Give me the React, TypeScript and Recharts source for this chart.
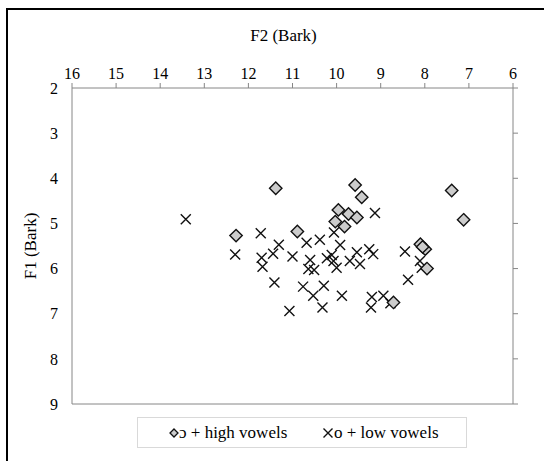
import React from 'react';
import { ScatterChart, Scatter, XAxis, YAxis, Label } from 'recharts';

const highF2 = [11.38, 9.58, 12.28, 10.89, 9.96, 9.73, 9.54, 10.03, 9.82, 9.43, 7.39, 7.12, 8.10, 7.99, 8.05, 7.95, 8.71];
const highF1 = [4.22, 4.15, 5.27, 5.18, 4.70, 4.79, 4.87, 4.96, 5.07, 4.42, 4.27, 4.92, 5.46, 5.57, 5.52, 6.00, 6.75];

const lowF2 = [13.42, 11.72, 12.30, 11.31, 11.70, 11.44, 11.68, 11.00, 10.68, 10.38, 10.06, 9.92, 10.60, 10.64, 10.51, 10.22, 10.11, 10.07, 10.00, 9.70, 9.54, 11.41, 10.76, 10.29, 10.53, 9.88, 11.07, 10.32, 9.13, 9.26, 9.17, 9.47, 8.45, 8.11, 8.07, 8.38, 9.20, 8.94, 8.78, 9.22];
const lowF1 = [4.91, 5.22, 5.69, 5.47, 5.76, 5.67, 5.96, 5.73, 5.43, 5.36, 5.20, 5.48, 5.81, 6.01, 6.03, 5.77, 5.70, 5.83, 5.98, 5.83, 5.64, 6.31, 6.40, 6.38, 6.60, 6.60, 6.94, 6.86, 4.77, 5.57, 5.68, 5.90, 5.62, 5.83, 5.98, 6.25, 6.63, 6.60, 6.77, 6.86];

const xTicks = [16, 15, 14, 13, 12, 11, 10, 9, 8, 7, 6];
const yTicks = [2, 3, 4, 5, 6, 7, 8, 9];

const seriesNames = ['ɔ + high vowels', 'o + low vowels'];
const xTitle = 'F2 (Bark)';
const yTitle = 'F1 (Bark)';

const highData = highF2.map((x, i) => ({ x, y: highF1[i] }));
const lowData = lowF2.map((x, i) => ({ x, y: lowF1[i] }));

const FONT = '"Times New Roman", "Liberation Serif", serif';
const AXIS = '#868686';

const Diamond = (props: any) => {
  const { cx, cy } = props;
  const r = 6.2;
  return (
    <path
      d={`M${cx},${cy - r}L${cx + r},${cy}L${cx},${cy + r}L${cx - r},${cy}Z`}
      fill="#cccccc"
      stroke="#111"
      strokeWidth={1.4}
    />
  );
};

const Cross = (props: any) => {
  const { cx, cy } = props;
  const r = 5;
  return (
    <path
      d={`M${cx - r},${cy - r}L${cx + r},${cy + r}M${cx - r},${cy + r}L${cx + r},${cy - r}`}
      fill="none"
      stroke="#111"
      strokeWidth={1.4}
    />
  );
};

const Nothing = () => <g />;

const tickStyle = { fill: '#000', fontSize: 16, fontFamily: FONT };

export default function App() {
  return (
    <div style={{ position: 'relative', width: 544, height: 461, background: '#fff' }}>
      <style>{`body{margin:0;}`}</style>
      <div
        style={{
          position: 'absolute',
          left: 6,
          top: 8,
          width: 540,
          height: 455,
          borderLeft: '2px solid #000',
          borderTop: '2px solid #000',
          boxSizing: 'border-box',
        }}
      />
      <div style={{ position: 'absolute', left: 0, top: 0 }}>
        <ScatterChart width={544} height={461} margin={{ top: 58, right: 26, bottom: 55, left: 32 }}>
          <XAxis
            type="number"
            dataKey="x"
            orientation="top"
            domain={[6, 16]}
            ticks={xTicks}
            reversed
            height={30}
            interval={0}
            allowDecimals={false}
            stroke={AXIS}
            tickLine={{ stroke: AXIS }}
            tickSize={5}
            tickMargin={4}
            tick={tickStyle}
          >
            <Label
              content={(p: any) => {
                const vb = p.viewBox || { x: 72, y: 58, width: 441 };
                return (
                  <text
                    x={vb.x + vb.width / 2 - 9}
                    y={vb.y - 17}
                    textAnchor="middle"
                    fontFamily={FONT}
                    fontSize={17}
                    fill="#000"
                  >
                    {xTitle}
                  </text>
                );
              }}
            />
          </XAxis>
          <XAxis
            xAxisId="b"
            type="number"
            dataKey="x"
            orientation="bottom"
            domain={[6, 16]}
            ticks={xTicks}
            reversed
            height={2}
            stroke={AXIS}
            tick={false}
            tickLine={false}
          />
          <YAxis
            type="number"
            dataKey="y"
            domain={[2, 9]}
            ticks={yTicks}
            reversed
            width={40}
            interval={0}
            stroke={AXIS}
            tickLine={false}
            tickSize={0}
            tickMargin={14}
            tick={tickStyle}
          >
            <Label
              content={(p: any) => {
                const vb = p.viewBox || { x: 32, y: 88, height: 316 };
                const x = vb.x - 2;
                const y = vb.y + vb.height / 2;
                return (
                  <text
                    x={x}
                    y={y}
                    transform={`rotate(-90, ${x}, ${y})`}
                    textAnchor="middle"
                    dominantBaseline="central"
                    fontFamily={FONT}
                    fontSize={17}
                    fill="#000"
                  >
                    {yTitle}
                  </text>
                );
              }}
            />
          </YAxis>
          <YAxis
            yAxisId="r"
            type="number"
            dataKey="y"
            orientation="right"
            domain={[2, 9]}
            ticks={yTicks}
            reversed
            width={5}
            interval={0}
            stroke={AXIS}
            tickLine={{ stroke: AXIS }}
            tickSize={5}
            tickMargin={0}
            tick={{ fontSize: 1, fill: 'none' }}
            tickFormatter={() => ''}
          />
          <Scatter data={highData} xAxisId="b" yAxisId="r" shape={<Nothing />} legendType="none" isAnimationActive={false} />
          <Scatter name={seriesNames[1]} data={lowData} shape={<Cross />} isAnimationActive={false} />
          <Scatter name={seriesNames[0]} data={highData} shape={<Diamond />} isAnimationActive={false} />
        </ScatterChart>
      </div>
      <div
        style={{
          position: 'absolute',
          left: 137,
          top: 417,
          width: 330,
          height: 31,
          boxSizing: 'border-box',
          border: '1px solid #d9d9d9',
          background: '#fff',
          fontFamily: FONT,
          fontSize: 17,
          color: '#000',
        }}
      >
        <svg width={10} height={10} style={{ position: 'absolute', left: 31, top: 10 }}>
          <path d="M5,1L9,5L5,9L1,5Z" fill="#cccccc" stroke="#111" strokeWidth={1.3} />
        </svg>
        <span style={{ position: 'absolute', left: 41, top: 5, whiteSpace: 'nowrap', lineHeight: '20px' }}>
          {seriesNames[0]}
        </span>
        <svg width={12} height={12} style={{ position: 'absolute', left: 184, top: 9 }}>
          <path d="M1.5,1.5L10.5,10.5M1.5,10.5L10.5,1.5" fill="none" stroke="#111" strokeWidth={1.4} />
        </svg>
        <span style={{ position: 'absolute', left: 196, top: 5, whiteSpace: 'nowrap', lineHeight: '20px' }}>
          {seriesNames[1]}
        </span>
      </div>
    </div>
  );
}
